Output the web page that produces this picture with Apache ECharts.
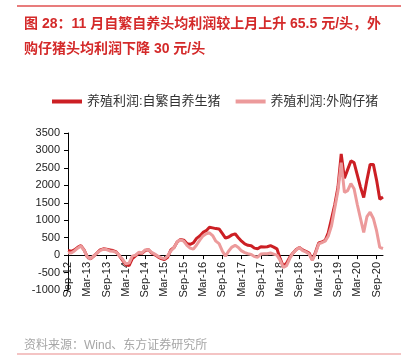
<!DOCTYPE html>
<html><head><meta charset="utf-8">
<script src="https://cdn.jsdelivr.net/npm/echarts@6/dist/echarts.min.js"></script>
<style>html,body{margin:0;padding:0;background:#fff}#c{width:408px;height:357px}</style>
</head><body><div id="c"></div>
<script>
const months = (function(){
  const names=['Jan','Feb','Mar','Apr','May','Jun','Jul','Aug','Sep','Oct','Nov','Dec'];
  const out=[]; let y=12, m=8;
  while(!(y===20 && m===11)){ out.push(names[m]+'-'+String(y).padStart(2,'0')); m++; if(m===12){m=0;y++;} }
  return out;
})();
const selfBred = [130,110,150,220,270,150,-50,-110,-30,60,150,180,170,150,130,90,-20,-150,-280,-300,-100,-20,50,50,130,160,60,10,-50,-100,-130,-60,150,220,380,450,430,330,310,350,480,550,650,700,800,780,760,750,620,490,520,580,610,500,400,320,280,270,200,180,240,230,240,270,230,180,-100,-320,-230,-60,60,160,220,150,110,60,-130,80,350,380,420,650,1050,1450,1950,2900,2200,2450,2700,2650,2300,1950,1650,2150,2600,2600,2150,1600,1665];
const purchased = [70,60,120,200,260,140,-50,-100,-20,60,130,170,160,120,110,80,-20,-120,-250,-230,-30,0,80,60,150,160,80,30,-30,-80,-100,-20,120,220,380,440,400,280,200,170,290,430,550,610,640,560,400,330,120,-30,120,230,280,220,120,70,40,20,-40,-60,30,40,40,60,30,0,-150,-350,-300,-100,60,150,220,130,90,30,-150,50,320,360,400,550,850,1350,1850,2650,1800,1850,2050,1900,1450,1050,650,1100,1230,1050,700,220,190];
const seriesNames = ['养殖利润:自繁自养生猪','养殖利润:外购仔猪'];
const titleLine1 = '图 28：11 月自繁自养头均利润较上月上升 65.5 元/头，外';
const titleLine2 = '购仔猪头均利润下降 30 元/头';
const sourceText = '资料来源：Wind、东方证券研究所';

const chart = echarts.init(document.getElementById('c'));
const cjk = '"Liberation Sans", "Noto Sans CJK SC", sans-serif';
const lat = '"Liberation Sans", Arial, sans-serif';
chart.setOption({
  animation:false,
  backgroundColor:'#fff',
  title:[
    {text:titleLine1,left:19,top:12,textStyle:{color:'#d42a2a',fontSize:14,fontWeight:'bold',fontFamily:cjk}},
    {text:titleLine2,left:19,top:37,textStyle:{color:'#d42a2a',fontSize:14,fontWeight:'bold',fontFamily:cjk}},
    {text:sourceText,left:19,top:335,textStyle:{color:'#a6a6a6',fontSize:12,fontWeight:'normal',fontFamily:cjk}}
  ],
  graphic:[
    {type:'line',shape:{x1:17,y1:6,x2:401,y2:6},style:{stroke:'#e05050',lineWidth:1.5}},
    {type:'line',shape:{x1:17,y1:354,x2:401,y2:354},style:{stroke:'#f4c4c4',lineWidth:2}}
  ],
  legend:{
    left:47, top:90, icon:'rect', itemWidth:30, itemHeight:4, itemGap:15,
    textStyle:{color:'#333',fontSize:13,fontFamily:cjk},
    data:seriesNames
  },
  grid:{left:68,right:25,top:133,bottom:67,containLabel:false},
  xAxis:{
    type:'category', data:months, boundaryGap:false,
    axisLine:{onZero:true,lineStyle:{color:'#000',width:1}},
    axisTick:{interval:5,length:4,lineStyle:{color:'#000'}},
    axisLabel:{interval:5,rotate:90,color:'#222',fontSize:11,fontFamily:lat,margin:-28},
    splitLine:{show:false}
  },
  yAxis:{
    type:'value', min:-1000, max:3500, interval:500,
    axisLine:{show:true,lineStyle:{color:'#000',width:1}},
    axisTick:{show:true,length:4,lineStyle:{color:'#000'}},
    axisLabel:{color:'#222',fontSize:11,fontFamily:lat,margin:8,formatter:function(v){return String(v);}},
    splitLine:{show:false}
  },
  series:[
    {name:seriesNames[0],type:'line',data:selfBred,showSymbol:false,lineStyle:{color:'#cc1f24',width:3},itemStyle:{color:'#cc1f24'},z:3},
    {name:seriesNames[1],type:'line',data:purchased,showSymbol:false,lineStyle:{color:'#ec9a9b',width:3},itemStyle:{color:'#ec9a9b'},z:4}
  ]
});
</script></body></html>
